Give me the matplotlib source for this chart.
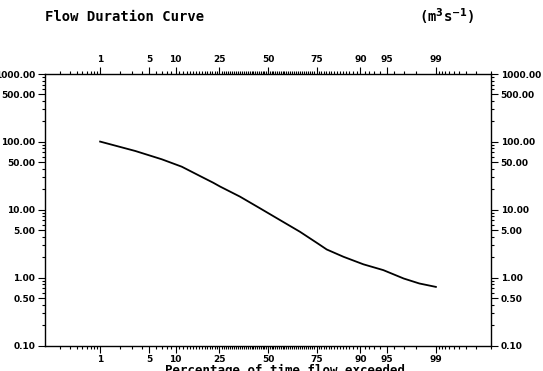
import numpy as np
import matplotlib
matplotlib.use('Agg')
import matplotlib.pyplot as plt
from matplotlib.ticker import FixedLocator, FuncFormatter, NullFormatter
from statistics import NormalDist

# Кривая обеспеченности расходов (% времени превышения -> расход, м3/с)
pct_exceeded = [1, 3.3, 7.05, 11.6, 17.3, 22.4, 25.3, 34.9, 45.6, 56.6, 67.1,
                75.7, 79.2, 85.2, 90.7, 94.5, 97.0, 98.2, 99]
flow = [101, 73.4, 55.4, 43.1, 31.4, 25.0, 22.0, 15.6, 10.5, 7.05, 4.74,
        3.15, 2.6, 2.03, 1.57, 1.29, 0.97, 0.82, 0.73]

x_ticks = [1, 5, 10, 25, 50, 75, 90, 95, 99]
y_ticks = [0.1, 0.5, 1, 5, 10, 50, 100, 500, 1000]

nd = NormalDist()


# Вероятностная шкала по оси X
def prob_fwd(p):
    p = np.clip(np.asarray(p, dtype=float), 1e-6, 100 - 1e-6)
    return np.vectorize(lambda v: nd.inv_cdf(v / 100.0), otypes=[float])(p)


def prob_inv(z):
    z = np.asarray(z, dtype=float)
    return np.vectorize(lambda v: nd.cdf(v) * 100.0, otypes=[float])(z)


plt.rcParams['font.family'] = 'DejaVu Sans'
plt.rcParams['font.weight'] = 'bold'

fig = plt.figure(figsize=(5.43, 3.71), dpi=100)
ax = fig.add_axes([45 / 543, 1 - 345.5 / 371, 446 / 543, 271.5 / 371])

ax.plot(pct_exceeded, flow, color='black', lw=1.3)

ax.set_xscale('function', functions=(prob_fwd, prob_inv))
ax.set_yscale('log')
ax.set_xlim(0.1, 99.9)
ax.set_ylim(0.1, 1000)

ax.xaxis.set_major_locator(FixedLocator(x_ticks))
ax.xaxis.set_major_formatter(FuncFormatter(lambda v, pos: f'{v:g}'))
x_minor = list(np.arange(0.2, 1.0, 0.1)) + list(range(2, 100)) + list(np.arange(99.1, 99.9, 0.1))
ax.xaxis.set_minor_locator(FixedLocator(x_minor))
ax.xaxis.set_minor_formatter(NullFormatter())

ax.yaxis.set_major_locator(FixedLocator(y_ticks))
ax.yaxis.set_major_formatter(FuncFormatter(lambda v, pos: f'{v:.2f}'))
y_minor = [m * 10.0 ** e for e in range(-1, 3) for m in range(2, 10) if m != 5]
ax.yaxis.set_minor_locator(FixedLocator(y_minor))
ax.yaxis.set_minor_formatter(NullFormatter())

ax.tick_params(axis='both', which='both', direction='out', top=True, right=True,
               labeltop=True, labelright=True, labelsize=6.5, width=0.8, pad=2)
ax.tick_params(axis='both', which='major', length=5)
ax.tick_params(axis='both', which='minor', length=2)
for lbl in ax.get_xticklabels() + ax.get_yticklabels():
    lbl.set_fontweight('bold')
for s in ax.spines.values():
    s.set_linewidth(1.0)

fig.text(45 / 543, 1 - 17 / 371, 'Flow Duration Curve', family='DejaVu Sans Mono',
         fontsize=10, fontweight='bold', va='center', ha='left')
fig.text(475 / 543, 1 - 17 / 371, r'(m$^{\mathbf{3}}$s$^{\mathbf{-1}}$)', family='DejaVu Sans Mono',
         fontsize=10, fontweight='bold', va='center', ha='right')
fig.text(285 / 543, 1 - 364 / 371, 'Percentage of time flow exceeded', family='DejaVu Sans Mono',
         fontsize=9, fontweight='bold', va='top', ha='center')

fig.savefig('out.png', dpi=100)
